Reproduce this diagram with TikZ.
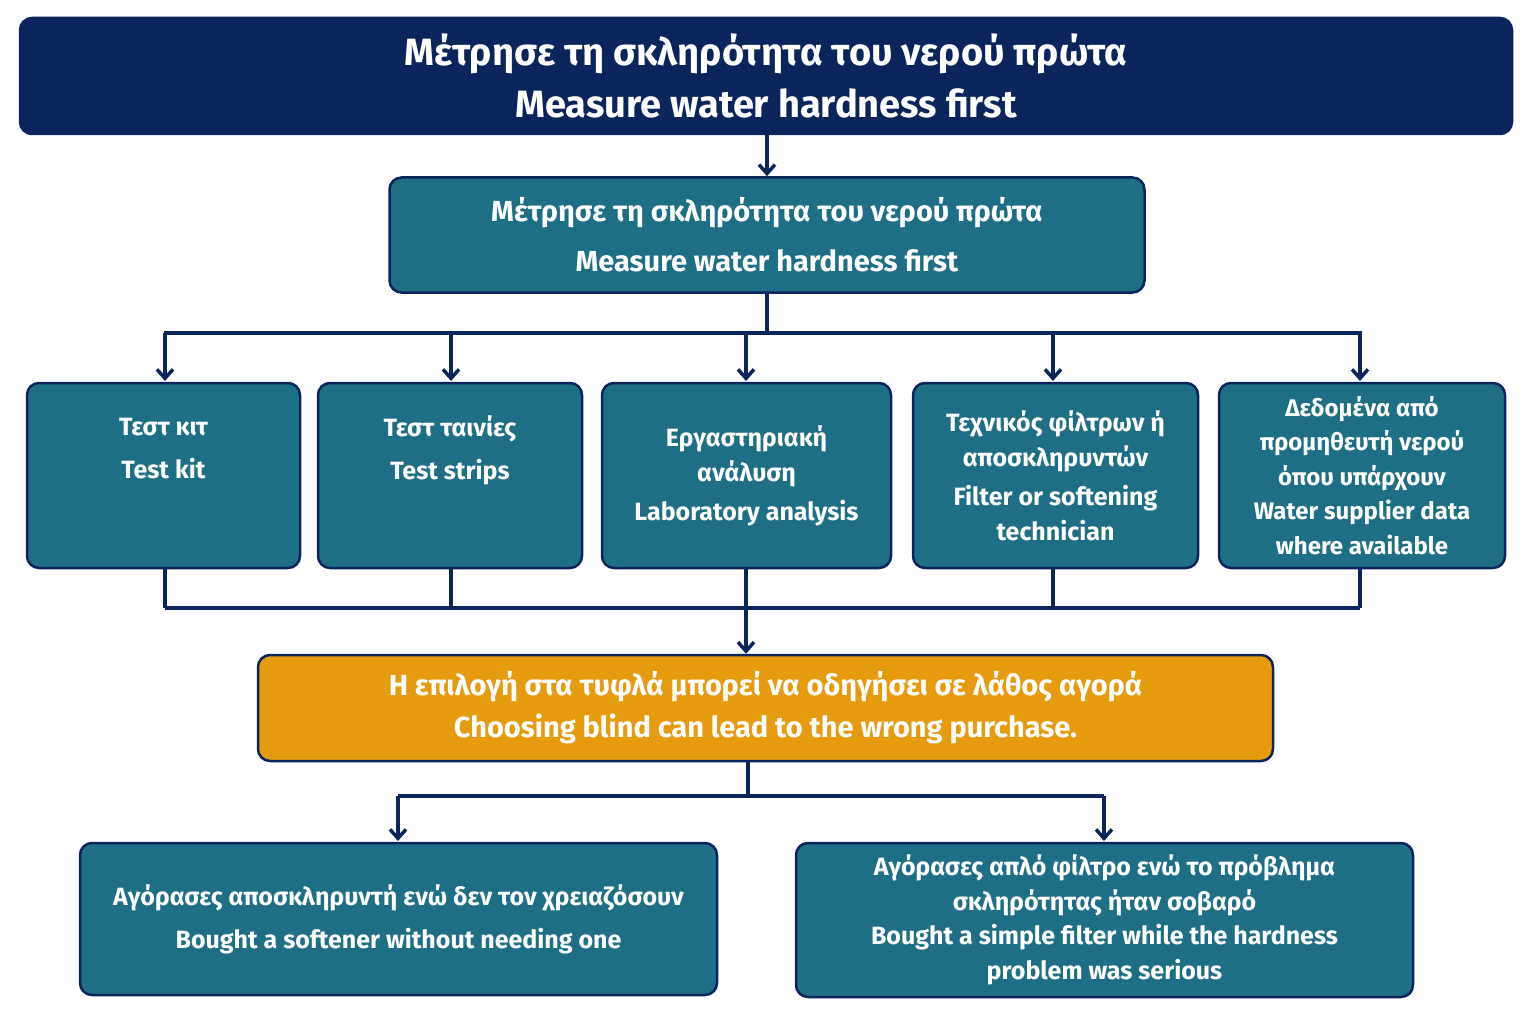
\documentclass[tikz,border=0pt]{standalone}
\usepackage{fontspec}
\setmainfont{Fira Sans}
\usetikzlibrary{arrows.meta}
\definecolor{navy}{RGB}{12,36,92}
\definecolor{teal}{RGB}{30,110,134}
\definecolor{amber}{RGB}{230,154,14}
\tikzset{
  box/.style={draw=navy, line width=2.5pt, rounded corners=12pt, fill=teal, text=white,
    align=center, inner sep=0pt},
  link/.style={draw=navy, line width=3.5pt},
  arr/.style={link, -{Straight Barb[length=9pt,width=16pt,line width=3.5pt]}}
}
\begin{document}
\begin{tikzpicture}[x=1pt,y=-1pt]
\useasboundingbox (0,0) rectangle (1536,1024);
% header
\node[box, fill=navy, minimum width=1492pt, minimum height=116pt, font=\bfseries\fontsize{38}{52}\selectfont] (title) at (766,76)
  {Μέτρησε τη σκληρότητα του νερού πρώτα\\Measure water hardness first};
\node[box, minimum width=755pt, minimum height=115pt, font=\bfseries\fontsize{29}{50}\selectfont] (measure) at (767,235)
  {Μέτρησε τη σκληρότητα του νερού πρώτα\\Measure water hardness first};
% methods
\tikzset{method/.style={box, minimum height=185pt, font=\bfseries\fontsize{25}{35}\selectfont}}
\node[method, minimum width=273pt, font=\bfseries\fontsize{25}{43}\selectfont] (kit) at (163.5,475.5) {Τεστ κιτ\\Test kit\\[12pt]};
\node[method, minimum width=264pt, font=\bfseries\fontsize{25}{43}\selectfont] (strips) at (450,475.5) {Τεστ ταινίες\\Test strips\\[12pt]};
\node[method, minimum width=289pt] (lab) at (746.5,475.5) {Εργαστηριακή\\ανάλυση\\[4pt]Laboratory analysis};
\node[method, minimum width=285pt] (tech) at (1055.5,475.5) {Τεχνικός φίλτρων ή\\αποσκληρυντών\\[4pt]Filter or softening\\technician};
\node[method, minimum width=286pt, font=\bfseries\fontsize{24}{34.5}\selectfont] (supplier) at (1362,475.5) {Δεδομένα από\\προμηθευτή νερού\\όπου υπάρχουν\\Water supplier data\\where available};
% warning
\node[box, fill=amber, minimum width=1015pt, minimum height=106pt, font=\bfseries\fontsize{29}{42}\selectfont] (blind) at (765.5,708)
  {Η επιλογή στα τυφλά μπορεί να οδηγήσει σε λάθος αγορά\\Choosing blind can lead to the wrong purchase.};
% outcomes
\node[box, minimum width=637pt, minimum height=152pt, font=\bfseries\fontsize{25}{43}\selectfont] (soft) at (398.5,919)
  {Αγόρασες αποσκληρυντή ενώ δεν τον χρειαζόσουν\\Bought a softener without needing one};
\node[box, minimum width=617pt, minimum height=154pt, font=\bfseries\fontsize{25}{34.5}\selectfont] (filter) at (1104.5,920)
  {Αγόρασες απλό φίλτρο ενώ το πρόβλημα\\σκληρότητας ήταν σοβαρό\\Bought a simple filter while the hardness\\problem was serious};
% connectors
\draw[arr] (title.south -| measure.north) -- (measure.north);
\coordinate (top) at (767,333);
\draw[link] (measure.south) -- (top);
\draw[link] (kit.north |- top) -- (supplier.north |- top);
\foreach \n/\x in {kit/165,strips/451,lab/746,tech/1053,supplier/1360}
  \draw[arr] (\x,333) -- (\x,381);
\coordinate (mid) at (746,608);
\foreach \x in {165,451,746,1053,1360}
  \draw[link] (\x,568) -- (\x,608);
\draw[link] (165,608) -- (1360,608);
\draw[arr] (mid) -- (mid |- blind.north);
\coordinate (low) at (748,796);
\draw[link] (blind.south -| low) -- (low);
\draw[link] (398,796) -- (1104,796);
\draw[arr] (398,796) -- (398,841);
\draw[arr] (1104,796) -- (1104,841);
\end{tikzpicture}
\end{document}
